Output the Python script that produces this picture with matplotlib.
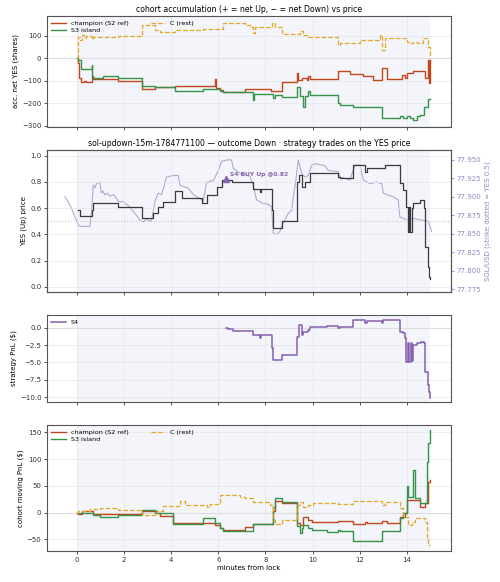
import matplotlib.pyplot as plt
import numpy as np

plt.rcParams['font.family'] = ['DejaVu Sans']
plt.rcParams['font.size'] = 5
plt.rcParams['axes.edgecolor'] = '#555555'
plt.rcParams['axes.linewidth'] = 0.8
plt.rcParams['xtick.major.size'] = 2.5
plt.rcParams['ytick.major.size'] = 2.5
plt.rcParams['xtick.major.width'] = 0.6
plt.rcParams['ytick.major.width'] = 0.6
plt.rcParams['xtick.color'] = '#333333'
plt.rcParams['ytick.color'] = '#333333'

# --- cohort accumulation (shares) ---
t_acc_champ = [0, 0.04, 0.08, 0.16, 0.30, 0.40, 0.62, 0.69, 1.75, 2.74, 3.31, 4.16, 5.86, 5.90, 6.07, 6.21,
               7.13, 8.25, 8.68, 9.32, 9.39, 9.53, 9.74, 9.81, 9.89, 11.09, 11.58, 12.15, 12.57, 12.95,
               13.14, 13.78, 13.92, 13.99, 14.27, 14.77, 14.91, 14.95, 14.98, 15.0]
acc_champ = [0, -22, -89, -104, -100, -104, -81, -92, -101, -136, -126, -123, -93, -133, -141, -151,
             -136, -148, -104, -67, -99, -89, -95, -81, -92, -59, -70, -81, -96, -44,
             -92, -74, -89, -67, -59, -89, -7, -111, -7, -7]
t_acc_s3 = [0, 0.06, 0.16, 0.62, 0.65, 0.69, 1.12, 1.75, 2.74, 3.31, 4.16, 5.36, 6.07, 6.21, 7.48, 7.53,
            8.33, 8.40, 8.68, 9.32, 9.46, 9.60, 9.67, 9.81, 9.89, 11.09, 11.16, 11.72, 12.93, 13.70,
            13.85, 13.99, 14.13, 14.27, 14.41, 14.55, 14.72, 14.91, 15.0]
acc_s3 = [0, -7, -49, -30, -81, -89, -81, -89, -123, -129, -145, -136, -145, -151, -188, -160,
          -178, -163, -173, -130, -170, -215, -170, -148, -163, -200, -207, -215, -267, -256,
          -267, -256, -267, -274, -256, -252, -215, -182, -182]
t_acc_rest = [0, 0.06, 0.13, 0.20, 0.30, 0.40, 0.62, 0.69, 1.75, 2.74, 3.31, 3.52, 4.16, 5.36, 6.21, 7.13,
              7.34, 7.48, 7.55, 8.26, 8.40, 8.68, 9.46, 9.60, 9.81, 11.09, 11.16, 11.58, 12.01, 12.85,
              12.95, 13.07, 13.99, 14.13, 14.27, 14.41, 14.69, 14.91, 14.98, 15.0]
acc_rest = [0, 96, 81, 104, 92, 100, 84, 96, 99, 148, 126, 119, 126, 129, 156, 148,
            141, 111, 141, 158, 141, 108, 123, 104, 96, 59, 67, 70, 81, 104,
            37, 89, 74, 67, 74, 67, 89, 52, 0, 0]

# --- YES (Up) price and SOL/USD ---
t_yes = [0.06, 0.13, 0.62, 0.69, 1.75, 2.74, 3.24, 3.45, 3.66, 4.16, 4.44, 5.29, 5.50, 5.93, 6.14, 6.56,
         7.48, 7.76, 7.83, 8.26, 8.33, 8.68, 9.32, 9.43, 9.53, 9.67, 9.89, 11.09, 11.16, 11.72, 12.22,
         12.29, 13.07, 13.70, 13.85, 13.96, 14.03, 14.09, 14.15, 14.21, 14.27, 14.55, 14.72, 14.77,
         14.88, 14.93, 14.98]
yes_price = [0.585, 0.54, 0.585, 0.636, 0.606, 0.522, 0.56, 0.606, 0.649, 0.733, 0.674, 0.641, 0.70, 0.763,
             0.814, 0.80, 0.743, 0.72, 0.743, 0.585, 0.445, 0.50, 0.80, 0.85, 0.76, 0.80, 0.865, 0.84,
             0.827, 0.929, 0.878, 0.903, 0.929, 0.79, 0.738, 0.611, 0.42, 0.61, 0.42, 0.60, 0.636, 0.662,
             0.598, 0.305, 0.153, 0.076, 0.06]
t_sol = [-0.51, -0.40, -0.30, -0.20, -0.08, 0.06, 0.13, 0.55, 0.62, 0.69, 0.76, 0.83, 0.97, 1.04, 1.10,
         1.18, 1.30, 1.40, 1.55, 1.68, 1.75, 2.0, 2.10, 2.25, 2.39, 2.50, 2.67, 2.81, 2.95, 3.10, 3.17,
         3.31, 3.45, 3.59, 3.70, 3.80, 4.09, 4.30, 4.37, 4.51, 4.72, 4.94, 5.10, 5.22, 5.36, 5.50, 5.79,
         6.00, 6.14, 6.35, 6.56, 6.63, 6.92, 7.13, 7.34, 7.48, 7.62, 7.91, 8.05, 8.26, 8.33, 8.47, 8.61,
         8.68, 8.83, 8.97, 9.11, 9.18, 9.29, 9.39, 9.53, 9.67, 9.81, 9.96, 10.10, 10.52, 10.66, 11.09,
         11.16, 11.58, 11.80, 12.01, 12.15, 12.43, 12.71, 12.93, 13.00, 13.42, 13.63, 13.70, 13.99,
         14.27, 14.55, 14.91, 15.05]
sol_usd = [77.900, 77.895, 77.889, 77.882, 77.873, 77.862, 77.860, 77.860, 77.880, 77.916, 77.912, 77.918,
           77.920, 77.905, 77.908, 77.903, 77.905, 77.901, 77.903, 77.898, 77.894, 77.893, 77.890, 77.886,
           77.880, 77.876, 77.869, 77.866, 77.870, 77.867, 77.869, 77.894, 77.905, 77.903, 77.915, 77.927,
           77.929, 77.929, 77.916, 77.914, 77.912, 77.903, 77.900, 77.898, 77.894, 77.920, 77.922, 77.936,
           77.948, 77.950, 77.950, 77.939, 77.932, 77.930, 77.928, 77.916, 77.896, 77.891, 77.891, 77.887,
           77.851, 77.849, 77.853, 77.860, 77.869, 77.878, 77.882, 77.900, 77.923, 77.950, 77.932, 77.927,
           77.929, 77.943, 77.945, 77.942, 77.936, 77.934, 77.927, 77.923, 77.943, 77.943, 77.923, 77.918,
           77.920, 77.918, 77.905, 77.900, 77.896, 77.873, 77.869, 77.871, 77.869, 77.867, 77.853]
strike_yes = 0.5
buy_t, buy_price = 6.32, 0.82

# --- S4 strategy PnL ---
t_s4 = [6.32, 6.39, 6.63, 7.48, 7.76, 7.83, 8.26, 8.33, 8.68, 9.32, 9.43, 9.53, 9.60, 9.81, 9.89, 10.59,
        11.09, 11.16, 11.72, 12.22, 12.29, 12.57, 12.93, 13.00, 13.70, 13.85, 13.92, 13.98, 14.04, 14.10,
        14.16, 14.22, 14.27, 14.41, 14.58, 14.72, 14.77, 14.88, 14.93, 15.0]
pnl_s4 = [-0.09, -0.23, -0.43, -1.05, -1.53, -1.05, -2.96, -4.64, -3.92, -1.29, 0.39, -1.05, -0.57, -0.33,
          0.05, 0.24, -0.09, 0.15, 1.1, 0.72, 0.91, 1.01, 0.63, 1.1, -0.57, -0.81, -1.53, -4.88, -2.2,
          -4.9, -2.2, -4.8, -2.48, -2.24, -2.0, -2.24, -6.31, -8.23, -9.19, -10.14]

# --- cohort moving PnL ($) ---
t_pnl_champ = [0, 0.04, 0.20, 0.69, 2.74, 3.38, 3.52, 4.09, 5.36, 5.85, 6.07, 6.21, 7.13, 7.48, 8.33,
               8.40, 8.68, 9.32, 9.46, 9.60, 9.81, 9.96, 11.09, 11.72, 12.22, 12.29, 12.93, 13.14, 13.70,
               13.92, 13.99, 14.55, 14.77, 14.91, 15.0]
pnl_champ = [0, -3, 2, -3, 3, -1, -5.6, -20, -20, -23, -29, -32, -28, -22, 2,
             22, 17, -20, -23, -7.5, -14, -17, -16, -22, -18, -20, -16, -20, -7.5,
             -1, 24, 11, 17, 58, 61]
t_pnl_s3 = [0, 0.69, 0.98, 1.75, 2.74, 3.31, 4.09, 5.36, 5.85, 6.07, 6.21, 7.48, 8.33, 8.40, 8.68, 9.32,
            9.46, 9.53, 9.60, 9.81, 9.96, 10.59, 11.09, 11.16, 11.72, 12.93, 13.70, 13.85, 13.99, 14.06,
            14.27, 14.34, 14.55, 14.84, 14.91, 15.0]
pnl_s3 = [0, -4, -7.5, -4, 4, 0, -22, -11, -20, -29, -34, -22, 11, 28, 19, -26,
          -39, -29, -23, -29, -32, -37, -32, -34, -53, -34, -10.6, -1, 49, 30,
          80, 27, 17, 95, 130, 155]
t_pnl_rest = [0, 0.03, 0.55, 0.98, 1.75, 2.74, 3.38, 3.66, 4.37, 4.58, 5.36, 5.50, 5.64, 6.07, 6.92, 7.13,
              7.48, 8.19, 8.33, 8.40, 8.68, 9.32, 9.46, 9.60, 9.81, 10.03, 11.09, 11.72, 12.93, 13.07,
              13.70, 13.85, 14.06, 14.20, 14.34, 14.77, 14.84, 14.91, 15.0]
pnl_rest = [0, 2, 6, 8, 4, -4, 2, 12, 22, 14, 14, 11, 16, 32, 30, 28,
            19, 14, -14, -22, -14, 14, 20, 11, 14, 17, 16, 22, 14, 19,
            8, -7.5, -23, -17, -10.6, -17, -48, -60, -60]

c_champ = '#c4461c'
c_s3 = '#37934a'
c_rest = '#e3a823'
c_s4 = '#8660ae'
c_sol = '#b6a6d6'
c_right = '#9a86c4'
span_col = '#f3f5fa'

fig = plt.figure(figsize=(5, 5.82), dpi=100)
L, W = 0.094, 0.808
ax1 = fig.add_axes([L, 0.7818, W, 0.1907])
ax2 = fig.add_axes([L, 0.4983, W, 0.2440], sharex=ax1)
ax3 = fig.add_axes([L, 0.3093, W, 0.1495], sharex=ax1)
ax4 = fig.add_axes([L, 0.0533, W, 0.2165], sharex=ax1)
ax2r = ax2.twinx()

for ax in (ax1, ax2r, ax3, ax4):
    ax.axvspan(0, 15, color=span_col, zorder=0, lw=0)
for ax in (ax1, ax2, ax3, ax4):
    ax.grid(color='#e6e6ea', lw=0.5, zorder=0)
    ax.set_axisbelow(True)
    ax.tick_params(labelsize=5, pad=1.5)
    for sp in ax.spines.values():
        sp.set_color('#555555')

# panel 1
ax1.axhline(0, color='#dddddd', lw=0.8, zorder=1)
ax1.plot(t_acc_champ, acc_champ, drawstyle='steps-post', color=c_champ, lw=1.0, label='champion (S2 ref)')
ax1.plot(t_acc_s3, acc_s3, drawstyle='steps-post', color=c_s3, lw=1.0, label='S3 island')
ax1.plot(t_acc_rest, acc_rest, drawstyle='steps-post', color=c_rest, lw=0.9, ls='--', label='C (rest)')
ax1.set_ylim(-306, 188)
ax1.set_yticks([-300, -200, -100, 0, 100])
ax1.set_ylabel('acc. net YES (shares)', fontsize=5, labelpad=2)
ax1.set_title('cohort accumulation (+ = net Up, \u2212 = net Down) vs price', fontsize=5.6, pad=3)
ax1.legend(loc='upper left', ncol=2, frameon=False, fontsize=4.6, handlelength=2.2, columnspacing=3.5,
           borderaxespad=0.3, labelspacing=0.3)

# panel 2 (YES price on left, SOL on right)
ax2r.plot(t_sol, sol_usd, color=c_sol, lw=0.8, zorder=2)
ax2r.set_ylim(77.7713, 77.9635)
ax2r.set_yticks([77.775, 77.800, 77.825, 77.850, 77.875, 77.900, 77.925, 77.950])
ax2r.yaxis.set_major_formatter(plt.FormatStrFormatter('%.3f'))
ax2r.tick_params(labelsize=5, pad=1.5, colors=c_right)
ax2r.set_ylabel('SOL/USD (strike dotted = YES 0.5)', fontsize=5, color=c_right, labelpad=2)
for sp in ax2r.spines.values():
    sp.set_color('#555555')
ax2.set_zorder(ax2r.get_zorder() + 1)
ax2.patch.set_visible(False)
ax2r.patch.set_visible(True)
ax2r.patch.set_facecolor('white')

ax2.axhline(strike_yes, color='#c8c8c8', lw=0.8, ls=':', zorder=1)
ax2.plot(t_yes, yes_price, drawstyle='steps-post', color='#3a3a3a', lw=0.9, zorder=4)
ax2.plot(buy_t, buy_price, marker='^', color=c_s4, ms=5, zorder=5, ls='none')
ax2.annotate('S4 BUY Up @0.82', (buy_t, buy_price), xytext=(3, 2), textcoords='offset points',
             fontsize=4.3, fontweight='bold', color=c_s4, zorder=6)
ax2.set_ylim(-0.04, 1.043)
ax2.set_yticks([0.0, 0.2, 0.4, 0.6, 0.8, 1.0])
ax2.set_ylabel('YES (Up) price', fontsize=5, labelpad=2)
ax2.set_title('sol-updown-15m-1784771100 \u2014 outcome Down \u00b7 strategy trades on the YES price',
              fontsize=5.6, pad=3)

# panel 3
ax3.axhline(0, color='#dddddd', lw=0.8, zorder=1)
ax3.plot(t_s4, pnl_s4, drawstyle='steps-post', color=c_s4, lw=1.1, label='S4')
ax3.set_ylim(-10.67, 1.82)
ax3.set_yticks([-10.0, -7.5, -5.0, -2.5, 0.0])
ax3.set_ylabel('strategy PnL ($)', fontsize=5, labelpad=2)
ax3.legend(loc='upper left', frameon=False, fontsize=4.6, handlelength=2.2, borderaxespad=0.3)

# panel 4
ax4.axhline(0, color='#dddddd', lw=0.8, zorder=1)
ax4.plot(t_pnl_champ, pnl_champ, drawstyle='steps-post', color=c_champ, lw=1.0, label='champion (S2 ref)')
ax4.plot(t_pnl_s3, pnl_s3, drawstyle='steps-post', color=c_s3, lw=1.0, label='S3 island')
ax4.plot(t_pnl_rest, pnl_rest, drawstyle='steps-post', color=c_rest, lw=0.9, ls='--', label='C (rest)')
ax4.set_ylim(-72, 164)
ax4.set_yticks([-50, 0, 50, 100, 150])
ax4.set_ylabel('cohort moving PnL ($)', fontsize=5, labelpad=2)
ax4.set_xlabel('minutes from lock', fontsize=5, labelpad=2)
ax4.legend(loc='upper left', ncol=2, frameon=False, fontsize=4.6, handlelength=2.2, columnspacing=3.5,
           borderaxespad=0.3, labelspacing=0.3)

ax1.set_xlim(-1.27, 15.87)
ax4.set_xticks([0, 2, 4, 6, 8, 10, 12, 14])
for ax in (ax1, ax2, ax3):
    ax.tick_params(labelbottom=False)

fig.savefig('out.png', dpi=100)
